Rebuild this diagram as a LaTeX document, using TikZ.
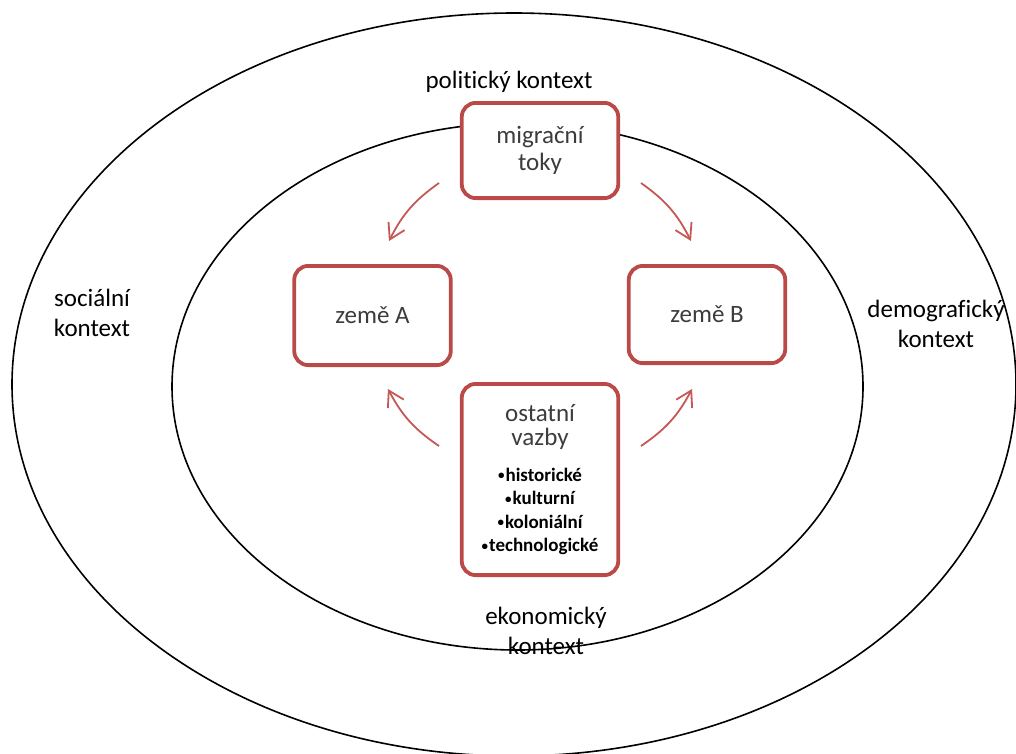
\documentclass[tikz,border=0pt]{standalone}
\usepackage{fontspec}
\setmainfont{Carlito}[Ligatures=NoCommon]
\usetikzlibrary{arrows.meta}
\definecolor{boxred}{HTML}{BA4A48}
\definecolor{arrred}{HTML}{C55855}
\definecolor{txtgray}{HTML}{3C3C3C}
\newcommand{\smallbul}{{\fontsize{13}{13}\selectfont\raisebox{1.5pt}{•}}\kern1pt}
\begin{document}
\begin{tikzpicture}[x=1pt,y=-1pt,
  ctx/.style={font=\fontsize{25}{30}\selectfont, align=center, text=black, inner sep=0pt},
  rbox/.style={draw=boxred, line width=3.8pt, fill=white, rounded corners=14pt,
    minimum width=156.5pt, align=center, text=txtgray,
    font=\fontsize{25}{27}\selectfont, inner sep=0pt},
  flow/.style={draw=arrred, line width=1.8pt, -{Straight Barb[length=15pt,width=18pt]}},
  ring/.style={draw=black, line width=1.6pt}]
\useasboundingbox (0,0) rectangle (1016,753);
% context rings
\draw[ring] (514,384.5) ellipse [x radius=502pt, y radius=371.5pt];
\draw[ring] (517.5,386.5) ellipse [x radius=345.5pt, y radius=263.5pt];
% boxes
\node[rbox, minimum height=95.2pt] (flows) at (540,150.5) {migrační\\toky};
\node[rbox, minimum height=99.2pt] (ca) at (372.5,315.5) {země A};
\node[rbox, minimum height=97.2pt] (cb) at (707,314.5) {země B};
\node[rbox, minimum height=191.2pt, font=\fontsize{25}{24}\selectfont] (links) at (540,479.5)
  {ostatní\\vazby\\[12pt]
   {\color{black}\bfseries\fontsize{19}{23}\selectfont \smallbul historické}\\[-0.5pt]
   {\color{black}\bfseries\fontsize{19}{23}\selectfont \smallbul kulturní}\\[-0.5pt]
   {\color{black}\bfseries\fontsize{19}{23}\selectfont \smallbul koloniální}\\[-0.5pt]
   {\color{black}\bfseries\fontsize{19}{23}\selectfont \smallbul technologické}};
% context labels
\node[ctx] (pol) at (509,82) {politický kontext};
\node[ctx] (soc) at (92,313) {sociální\\kontext};
\node[ctx] (dem) at (936,324) {demografický\\kontext};
\node[ctx] (eko) at (546,631) {ekonomický\\kontext};
% arrows
\coordinate (tl0) at (439,183); \coordinate (tl1) at (389,241);
\coordinate (tr0) at (641,183); \coordinate (tr1) at (691,241);
\coordinate (bl0) at (439,446); \coordinate (bl1) at (388,389);
\coordinate (br0) at (641,446); \coordinate (br1) at (692,389);
\draw[flow] (tl0) to[bend right=14] (tl1);
\draw[flow] (tr0) to[bend left=14] (tr1);
\draw[flow] (bl0) to[bend left=14] (bl1);
\draw[flow] (br0) to[bend right=14] (br1);
\end{tikzpicture}
\end{document}
